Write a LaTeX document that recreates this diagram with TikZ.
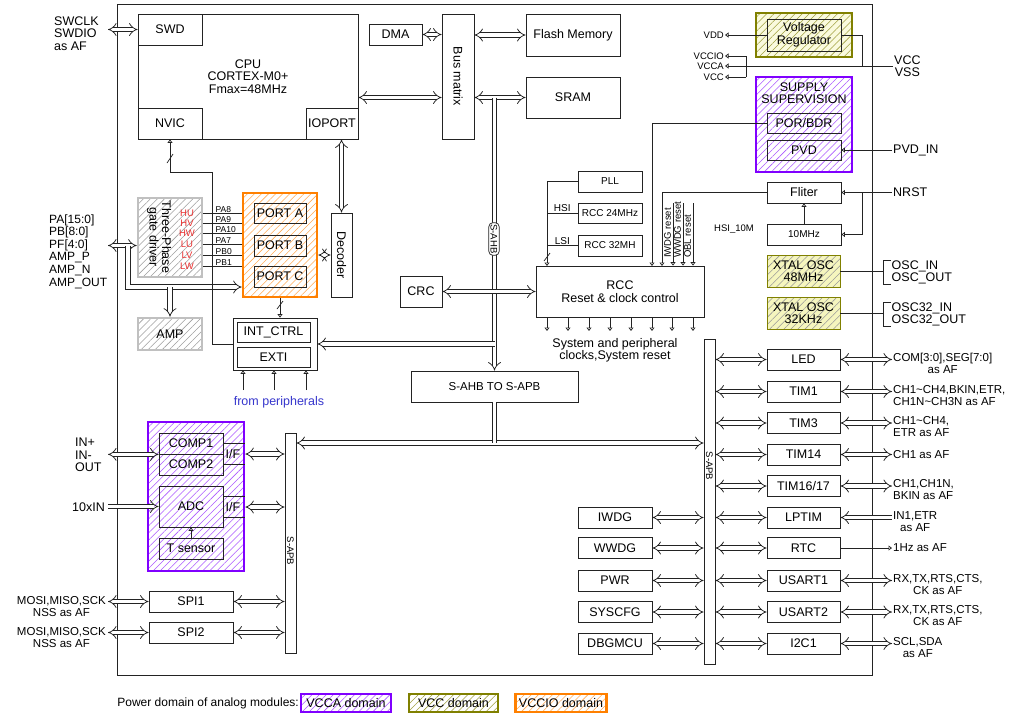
\documentclass[tikz,border=0pt]{standalone}
\usepackage{fontspec}
\setmainfont{Liberation Sans}
\usetikzlibrary{arrows.meta,patterns.meta,calc}
\definecolor{vpurple}{RGB}{128,0,255}
\definecolor{volive}{RGB}{128,128,0}
\definecolor{vorange}{RGB}{255,128,0}
\definecolor{vgray}{RGB}{192,192,192}
\definecolor{xtalfill}{RGB}{245,245,190}
\definecolor{regfill}{RGB}{250,250,222}
\definecolor{linec}{RGB}{35,35,35}
\definecolor{pinred}{RGB}{235,50,50}
\definecolor{perblue}{RGB}{55,55,205}
\newcommand{\mainfs}{\fontsize{12.5}{12.5}\selectfont}
\newcommand{\pinfs}{\fontsize{11.5}{12}\selectfont}
\newcommand{\smallfs}{\fontsize{10}{11}\selectfont}
\newcommand{\tinyfs}{\fontsize{9.5}{10.5}\selectfont}
\newcommand{\pafs}{\fontsize{8.5}{9}\selectfont}
\begin{document}
\begin{tikzpicture}[x=1pt, y=-1pt, >={Implies[scale=1.25]},
    blk/.style={draw=linec, line width=0.8pt, inner sep=0pt, align=center, font=\mainfs},
    sblk/.style={blk, font=\smallfs},
    bar/.style={draw=linec, line width=0.8pt, fill=white, inner sep=0pt, minimum width=11pt},
    bus/.style={draw=linec, line width=0.75pt, double=white, double distance=3.8pt},
    sig/.style={draw=linec, line width=0.7pt},
    sigarr/.style={sig, -{Triangle[open, length=3.5pt, width=5pt]}},
    hatch/.style={pattern={Lines[angle=45, distance=5pt, line width=0.55pt]}, pattern color=#1},
    vadom/.style={draw=vpurple, line width=2.6pt, hatch=vpurple!65, font=\mainfs},
    vcdom/.style={draw=volive, line width=2.6pt, hatch=volive!75, font=\mainfs},
    viodom/.style={draw=vorange, line width=2.6pt, hatch=vorange!65, font=\mainfs},
    gdom/.style={draw=vgray, line width=2.6pt, hatch=gray!75, font=\mainfs},
    xtal/.style={draw=volive, line width=0.8pt, preaction={fill=xtalfill}, hatch=gray!80, font=\mainfs, align=center, inner sep=0pt},
    lbl/.style={inner sep=1pt, align=center, font=\pinfs}]
\path[use as bounding box, fill=white] (0,0) rectangle (1023,724);
\draw[sig, line width=1pt] (117,4) rectangle (872,675);

% core, bus matrix, memories
\node[blk, minimum width=220pt, minimum height=125pt] (cpu) at (248,76.5) {CPU\\CORTEX-M0+\\Fmax=48MHz};
\node[blk, minimum width=64pt, minimum height=31pt] (swd) at (170,29.5) {SWD};
\node[blk, minimum width=64pt, minimum height=31pt] (nvic) at (170,123.5) {NVIC};
\node[blk, minimum width=52pt, minimum height=31pt] (ioport) at (332,123.5) {IOPORT};
\node[blk, minimum width=53pt, minimum height=21pt] (dma) at (395.5,34.5) {DMA};
\node[blk, minimum width=32pt, minimum height=125pt] (busmx) at (458,76.5) {\rotatebox{-90}{Bus matrix}};
\node[blk, minimum width=94pt, minimum height=42pt] (flash) at (573,35) {Flash Memory};
\node[blk, minimum width=94pt, minimum height=41pt] (sram) at (573,97.5) {SRAM};

\coordinate (lx) at (108,0);
\node[lbl, font=\mainfs, align=left, anchor=west] (swdpins) at (53,33.5) {SWCLK\\SWDIO\\as AF};
\draw[bus, <->] (lx |- swd.west) -- (swd.west);
\draw[bus, <->] (dma.east) -- (dma.east -| busmx.west);
\draw[bus, <->] (busmx.east |- flash.west) -- (flash.west);
\draw[bus, <->] (cpu.east |- sram.west) -- (busmx.west |- sram.west);
\draw[bus, <->] (busmx.east |- sram.west) -- (sram.west);

% power
\node[vcdom, preaction={fill=regfill}, minimum width=96pt, minimum height=44pt] (vreg) at (804,35) {};
\node[blk, line width=0.6pt, minimum width=74pt, minimum height=32pt] (vregin) at (804,35) {Voltage\\Regulator};
\node[lbl, font=\tinyfs, anchor=east] (vddt) at (725,35) {VDD};
\node[lbl, font=\tinyfs, anchor=east] (vcciot) at (725,56) {VCCIO};
\node[lbl, font=\tinyfs, anchor=east] (vccat) at (725,66) {VCCA};
\node[lbl, font=\tinyfs, anchor=east] (vcct) at (725,77) {VCC};
\node[lbl, font=\mainfs, anchor=west] (vccvss) at (893,66) {VCC\\VSS};
\coordinate (regj) at (862,66);
\coordinate (brk) at (746,66);
\draw[sigarr] (vregin.west) -- (vddt.east);
\draw[sig] (vregin.east) -| (regj);
\draw[sigarr] (vccvss.west) -- (vccat.east);
\draw[sig] (brk |- vcciot.east) -- (brk |- vcct.east);
\draw[sigarr] (brk |- vcciot.east) -- (vcciot.east);
\draw[sigarr] (brk |- vcct.east) -- (vcct.east);

\node[vadom, minimum width=96pt, minimum height=95pt] (supv) at (804,124.5) {};
\node[font=\mainfs, align=center, inner sep=0pt] (supvt) at (804,93) {SUPPLY\\SUPERVISION};
\node[blk, minimum width=74pt, minimum height=20pt] (porbdr) at (804,123) {POR/BDR};
\node[blk, minimum width=74pt, minimum height=20pt] (pvd) at (804,150) {PVD};
\node[lbl, font=\mainfs, anchor=west] (pvdin) at (892,150) {PVD\_IN};
\draw[sigarr] (pvdin.west) -- (pvd.east);

\node[blk, minimum width=74pt, minimum height=21pt] (fliter) at (804,192.5) {Fliter};
\node[sblk, minimum width=74pt, minimum height=21pt] (osc10) at (804,234.5) {10MHz};
\node[lbl, font=\tinyfs] (hsi10) at (734,229) {HSI\_10M};
\node[lbl, font=\mainfs, anchor=west] (nrst) at (892,192.5) {NRST};
\coordinate (nrj) at (862,192.5);
\draw[sigarr] (nrst.west) -- (fliter.east);
\draw[sigarr] (nrj) |- (osc10.east);
\draw[sigarr] (osc10.north) -- (fliter.south);

\node[xtal, minimum width=73pt, minimum height=32pt] (xtal48) at (803.5,271) {XTAL OSC\\48MHz};
\node[xtal, minimum width=73pt, minimum height=32pt] (xtal32) at (803.5,313) {XTAL OSC\\32KHz};
\node[lbl, font=\mainfs, anchor=west, inner sep=0.5pt] (oscin) at (891,266.5) {OSC\_IN};
\node[lbl, font=\mainfs, anchor=west, inner sep=0.5pt] (oscout) at (891,278.5) {OSC\_OUT};
\node[lbl, font=\mainfs, anchor=west, inner sep=0.5pt] (osc32in) at (891,308.5) {OSC32\_IN};
\node[lbl, font=\mainfs, anchor=west, inner sep=0.5pt] (osc32out) at (891,320.5) {OSC32\_OUT};
\draw[sig] (oscin.north west) -- ++(-8,0) coordinate (ob1) |- (oscout.south west);
\draw[sig] (xtal48.east) -- (xtal48.east -| ob1);
\draw[sig] (osc32in.north west) -- ++(-8,0) coordinate (ob2) |- (osc32out.south west);
\draw[sig] (xtal32.east) -- (xtal32.east -| ob2);

% clocks and reset
\node[sblk, minimum width=64pt, minimum height=21pt] (pll) at (610,181.5) {PLL};
\node[sblk, minimum width=64pt, minimum height=20pt] (rcc24) at (610,213) {RCC 24MHz};
\node[sblk, minimum width=64pt, minimum height=21pt] (rcc32) at (610,245.5) {RCC 32MH};
\node[blk, minimum width=168pt, minimum height=51pt] (rcc) at (620,291.5) {RCC\\Reset \& clock control};
\coordinate (cksel) at (547,266);
\draw[sigarr] (pll.west) -| (cksel);
\draw[sig] (rcc24.west) -- node[above, font=\smallfs, inner sep=1pt] (hsi) {HSI} (rcc24.west -| cksel);
\draw[sig] (rcc32.west) -- node[above, font=\smallfs, inner sep=1pt] (lsi) {LSI} (rcc32.west -| cksel);
\draw[sig] (544,261) -- (550,253);
\coordinate (porj) at (652,266);
\coordinate (flj) at (662,266);
\draw[sigarr] (porbdr.west) -| (porj);
\draw[sigarr] (fliter.west) -| (flj);
\foreach \xx/\rs in {673/IWDG reset, 683/WWDG reset, 693/OBL reset} {
  \draw[sigarr] (\xx,203) -- (rcc.north -| \xx,0);
  \node[rotate=90, anchor=west, font=\tinyfs, inner sep=0pt] (rs\xx) at (\xx-5.5,258) {\rs};
}
\foreach \xx in {547,568,589,610,631,652,672,693}
  \draw[sigarr] (rcc.south -| \xx,0) -- (\xx,331);
\node[lbl, font=\mainfs] (clkout) at (615,350.5) {System and peripheral\\clocks,System reset};

% AHB
\node[blk, minimum width=167pt, minimum height=31pt, font=\pinfs] (ahb2apb) at (494.5,386.5) {S-AHB TO S-APB};
\draw[bus, ->] (ahb2apb.north |- sram.west) -- (ahb2apb.north);
\node[blk, minimum width=42pt, minimum height=31pt] (crc) at (421,291.5) {CRC};
\draw[bus, <->] (crc.east) -- (rcc.west);
\node[draw=linec, line width=0.7pt, fill=white, rounded corners=4pt, rotate=-90, font=\tinyfs, inner sep=1.8pt] (sahb) at (494,239) {S-AHB};

% GPIO, motor driver
\node[gdom, minimum width=64pt, minimum height=79pt] (tpg) at (170,237.5) {};
\node[font=\mainfs, align=center, rotate=-90, inner sep=0pt] (tpgt) at (159,237) {Three-Phase\\gate driver};
\node[viodom, minimum width=74pt, minimum height=104pt] (gpio) at (280,245) {};
\node[blk, minimum width=52pt, minimum height=20pt] (porta) at (280,213) {PORT A};
\node[blk, minimum width=52pt, minimum height=21pt] (portb) at (280,245.5) {PORT B};
\node[blk, minimum width=52pt, minimum height=21pt] (portc) at (280,276.5) {PORT C};
\foreach \yy/\pn/\hn in {213/PA8/HU, 223/PA9/HV, 233/PA10/HW, 244/PA7/LU, 255/PB0/LV, 266/PB1/LW} {
  \draw[sig] (tpg.east |- 0,\yy) -- (gpio.west |- 0,\yy);
  \node[font=\pafs, anchor=south west, inner sep=0.5pt] (w\pn) at (215,\yy) {\pn};
  \node[font=\tinyfs, text=pinred, inner sep=0pt] (d\hn) at (187,\yy) {\hn};
}
\node[blk, minimum width=21pt, minimum height=84pt] (decoder) at (341.5,255) {\rotatebox{-90}{Decoder}};
\draw[bus, <->] (decoder.north |- ioport.south) -- (decoder.north);
\draw[bus, <->] (decoder.west -| gpio.east) -- (decoder.west);
\node[gdom, minimum width=64pt, minimum height=32pt] (amp) at (170,334) {AMP};

\node[lbl, font=\fontsize{12}{12.6}\selectfont, align=left, anchor=west] (papins) at (48,251.5) {PA[15:0]\\PB[8:0]\\PF[4:0]\\AMP\_P\\AMP\_N\\AMP\_OUT};
\coordinate (pj) at (128,287);
\draw[bus, <->] (lx |- portb) -- (tpg.west |- portb);
\draw[bus, ->] (pj |- portb) -- (pj) -- (pj -| gpio.west);
\draw[bus, ->] (pj -| amp.north) -- (amp.north);

% interrupts
\node[draw=linec, line width=0.8pt, minimum width=84pt, minimum height=52pt] (intbox) at (275,344) {};
\node[blk, minimum width=73pt, minimum height=20pt] (intctrl) at (273.5,332) {INT\_CTRL};
\node[blk, minimum width=73pt, minimum height=20pt] (exti) at (273.5,357) {EXTI};
\draw[bus, ->] (ahb2apb.north |- intbox.east) -- (intbox.east);
\draw[sigarr] (gpio.south) -- (gpio.south |- intbox.north);
\draw[sig] (277,309) -- (283,301);
\coordinate (nvj) at (212,172);
\draw[sigarr] (intbox.west) -| (nvj) -| (nvic.south);
\draw[sig] (167,163) -- (173,154);
\foreach \xx in {243,274,306}
  \draw[sigarr] (\xx,390) -- (intbox.south -| \xx,0);
\node[font=\fontsize{12.5}{13}\selectfont, text=perblue, inner sep=0pt] (fromper) at (279,402.5) {from peripherals};

% APB
\node[bar, minimum height=220pt] (lapb) at (290.5,543) {};
\node[rotate=-90, font=\tinyfs, inner sep=0pt] (lapbt) at (290.5,551) {S-APB};
\node[bar, minimum height=325pt] (rapb) at (709.5,501.5) {};
\node[rotate=-90, font=\tinyfs, inner sep=0pt] (rapbt) at (709.5,466) {S-APB};
\coordinate (apbj) at (494.5,443);
\draw[bus, <->] (apbj -| lapb.east) -- (apbj -| rapb.west);
\draw[bus] (ahb2apb.south) -- (apbj);

% analog
\node[vadom, minimum width=96pt, minimum height=149pt] (ana) at (196,496.5) {};
\node[blk, minimum width=64pt, minimum height=21pt] (comp1) at (191,443.5) {COMP1};
\node[blk, minimum width=64pt, minimum height=21pt] (comp2) at (191,464.5) {COMP2};
\node[blk, minimum width=64pt, minimum height=41pt] (adc) at (191,506.5) {ADC};
\node[blk, minimum width=64pt, minimum height=21pt] (tsens) at (191,548.5) {T sensor};
\node[font=\mainfs, inner sep=0pt] (ifc) at (233,454) {I/F};
\node[font=\mainfs, inner sep=0pt] (ifa) at (233,507) {I/F};
\draw[sig] (comp1.east) -- (comp1.east -| ana.east);
\draw[sig] (comp2.east) -- (comp2.east -| ana.east);
\draw[sig] ($(adc.north east)!0.25!(adc.south east)$) coordinate (a1) -- (a1 -| ana.east);
\draw[sig] ($(adc.north east)!0.75!(adc.south east)$) coordinate (a2) -- (a2 -| ana.east);
\draw[sigarr] (tsens.north) -- (adc.south);
\node[lbl, font=\mainfs, align=left, anchor=west] (inpins) at (74,455) {IN+\\IN-\\OUT};
\node[lbl, font=\mainfs, anchor=east] (adcin) at (106,507) {10xIN};
\draw[bus, <->] (lx |- comp1.south) -- (comp1.south west);
\draw[bus, ->] (lx |- adc.west) -- (adc.west);
\draw[bus, <->] (ana.east |- ifc) -- (lapb.west |- ifc);
\draw[bus, <->] (ana.east |- ifa) -- (lapb.west |- ifa);

\foreach \nm/\yy in {spi1/601.5, spi2/632.5} {
  \node[blk, minimum width=84pt, minimum height=21pt] (\nm) at (191,\yy) {\MakeUppercase{\nm}};
  \node[lbl, anchor=east] (\nm pin) at (107,\yy+5) {MOSI,MISO,SCK\\NSS as AF};
  \draw[bus, <->] (lx |- \nm.west) -- (\nm.west);
  \draw[bus, <->] (\nm.east) -- (\nm.east -| lapb.west);
}

% peripherals on S-APB
\foreach \nm/\tx/\yy in {led/LED/359.5, tim1/TIM1/391.5, tim3/TIM3/423, tim14/TIM14/454.5, tim16/{TIM16/17}/486, lptim/LPTIM/517.5, rtc/RTC/548, usart1/USART1/580.5, usart2/USART2/612, iic/I2C1/643.5} {
  \node[blk, minimum width=73pt, minimum height=21pt] (\nm) at (803.5,\yy) {\tx};
  \draw[bus, <->] (rapb.east |- \nm.west) -- (\nm.west);
}
\foreach \nm/\tx/\yy in {iwdg/IWDG/517.5, wwdg/WWDG/548, pwr/PWR/580.5, syscfg/SYSCFG/612, dbg/DBGMCU/643.5} {
  \node[blk, minimum width=74pt, minimum height=21pt] (\nm) at (615,\yy) {\tx};
  \draw[bus, <->] (\nm.east) -- (\nm.east -| rapb.west);
}
\node[lbl, anchor=west] (ledpin) at (892,363.5) {COM[3:0],SEG[7:0]\\as AF};
\node[lbl, anchor=west, align=left] (tim1pin) at (892,395.5) {CH1\textasciitilde CH4,BKIN,ETR,\\CH1N\textasciitilde CH3N as AF};
\node[lbl, anchor=west, align=left] (tim3pin) at (892,427) {CH1\textasciitilde CH4,\\ETR as AF};
\node[lbl, anchor=west] (tim14pin) at (892,454.5) {CH1 as AF};
\node[lbl, anchor=west, align=left] (tim16pin) at (892,490) {CH1,CH1N,\\BKIN as AF};
\node[lbl, anchor=west] (lptimpin) at (892,521.5) {IN1,ETR\\as AF};
\node[lbl, anchor=west] (rtcpin) at (892,548) {1Hz as AF};
\node[lbl, anchor=west] (usart1pin) at (892,584.5) {RX,TX,RTS,CTS,\\CK as AF};
\node[lbl, anchor=west] (usart2pin) at (892,616) {RX,TX,RTS,CTS,\\CK as AF};
\node[lbl, anchor=west] (iicpin) at (892,647.5) {SCL,SDA\\as AF};
\foreach \nm in {led,tim1,tim3,tim14,tim16,usart1,usart2,iic}
  \draw[bus, <->] (\nm.east) -- (\nm pin.west |- \nm.east);
\draw[bus, <-] (lptim.east) -- (lptimpin.west |- lptim.east);
\draw[sigarr] (rtc.east) -- (rtcpin.west |- rtc.east);

% legend
\node[font=\fontsize{12}{12}\selectfont, anchor=east, inner sep=1pt] (legt) at (300,703) {Power domain of analog modules:};
\node[vadom, minimum width=90pt, minimum height=18pt] (lgvcca) at (346,703) {VCCA domain};
\node[vcdom, minimum width=89pt, minimum height=18pt] (lgvcc) at (453.5,703) {VCC domain};
\node[viodom, minimum width=90pt, minimum height=18pt] (lgvccio) at (561,703) {VCCIO domain};
\end{tikzpicture}
\end{document}
